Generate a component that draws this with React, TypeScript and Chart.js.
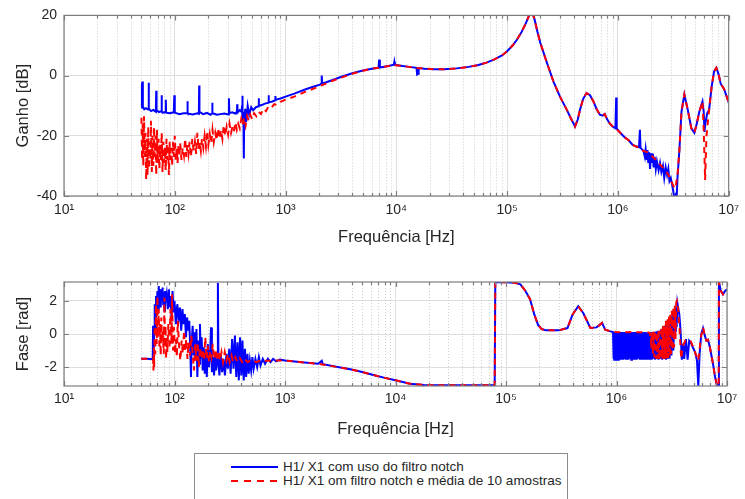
import React, { useEffect, useRef } from 'react';
import { Chart, registerables } from 'chart.js';

Chart.register(...registerables);

const FONT_FAMILY = '"Liberation Sans", Arial, Helvetica, sans-serif';
const TEXT_COLOR = '#262626';
const BLUE = '#0000ff';
const RED = '#ff0000';

const seriesLabels = [
  'H1/ X1 com uso do filtro notch',
  'H1/ X1 om filtro notch e média de 10 amostras',
];
const xTitle = 'Frequência [Hz]';
const gainTitle = 'Ganho [dB]';
const phaseTitle = 'Fase [rad]';

const freqTicks = [
  10, 20, 30, 40, 50, 60, 70, 80, 90,
  100, 200, 300, 400, 500, 600, 700, 800, 900,
  1000, 2000, 3000, 4000, 5000, 6000, 7000, 8000, 9000,
  10000, 20000, 30000, 40000, 50000, 60000, 70000, 80000, 90000,
  100000, 200000, 300000, 400000, 500000, 600000, 700000, 800000, 900000,
  1000000, 2000000, 3000000, 4000000, 5000000, 6000000, 7000000, 8000000, 9000000,
  10000000,
];
const decadeLabels: Record<string, string> = {
  '10': '10¹', '100': '10²', '1000': '10³', '10000': '10⁴',
  '100000': '10⁵', '1000000': '10⁶', '10000000': '10⁷',
};
const gainTicks = [-40, -20, 0, 20];
const phaseTicks = [-2, 0, 2];

// [frequency Hz, gain dB]
const gainBlue: [number, number][] = [
  [50, -10.7], [50.5, -3], [51, -2], [51.5, -10.2], [53, -11.2], [55, -10.8], [57.5, -11.3], [58, -2.4], [58.5, -11],
  [61, -11.8], [64, -11.4], [67.5, -12], [68, -5], [68.5, -11.5], [72, -12.1], [75.5, -11.8], [76, -6.5], [76.5, -12],
  [80, -12.3], [82.5, -12], [83, -8], [83.5, -12.3], [90, -12.5], [98, -12.2], [99, -6.5], [100, -12.3], [110, -12.8],
  [120, -12.5], [129, -12.4], [130, -8.5], [131, -12.6], [145, -12.9], [160, -12.5], [165, -12.7], [166, -3.3], [167, -12],
  [180, -12.8], [195, -12.4], [210, -13], [217, -12.6], [218, -9], [219, -12.5], [240, -13], [260, -12.8], [280, -12.6],
  [305, -12.9], [308, -7.5], [311, -12.5], [330, -12.2], [350, -12.6], [364, -12], [366, -9.5], [368, -12.3], [385, -11.5],
  [400, -12], [405, -10], [406, -6.7], [408, -11], [412, -15], [416, -12], [420, -27.5], [423, -14], [427, -18], [432, -11],
  [440, -15.5], [455, -10], [470, -13], [490, -10.5], [510, -11.5], [540, -10.5], [571, -10.2], [573, -7.5], [575, -10],
  [610, -9.8], [650, -9.3], [702, -9], [704, -6.5], [706, -8.8], [750, -8.7], [807, -8.2], [809, -6.8], [811, -8],
  [900, -7.6], [1000, -7], [1200, -6], [1500, -4.6], [1800, -3.6], [2050, -3], [2110, -2.6], [2120, 0], [2140, -2.5],
  [2300, -2.3], [2700, -1.4], [3200, -0.4], [4000, 0.8], [5000, 1.7], [6000, 2.3], [6900, 2.6], [7000, 5.3], [7100, 2.7],
  [8500, 3.2], [9500, 3.6], [9600, 4.6], [9700, 3.6], [11000, 3.3], [13000, 2.9], [15200, 2.6], [15400, 0.4], [15700, 0.6],
  [15900, 2.5], [18000, 2.3], [22000, 2.1], [27000, 2.1], [35000, 2.4], [45000, 2.9], [55000, 3.5], [65000, 4.3], [76000, 5.3],
  [90000, 6.7], [100000, 8.1], [112000, 10], [123000, 12], [135000, 14.5], [146000, 17], [158000, 20], [167000, 21.3], [176000, 19],
  [188000, 14.5], [199000, 11], [225000, 5], [262000, -2], [300000, -7], [345000, -11.3], [380000, -14.5], [410000, -16.9], [435000, -14.5],
  [455000, -11.3], [485000, -7.8], [520000, -5.8], [560000, -6.5], [600000, -8.5], [640000, -11], [687000, -13], [730000, -13.3], [760000, -12.8],
  [800000, -14.5], [840000, -15.8], [900000, -17], [950000, -17.5], [965000, -7.3], [975000, -17.5], [1050000, -19], [1150000, -20.5], [1250000, -21.5],
  [1360000, -23], [1450000, -23.5], [1550000, -23.8], [1580000, -18], [1600000, -24], [1650000, -24.5], [1700000, -25], [1750000, -27], [1780000, -24.5],
  [1820000, -28], [1850000, -24.7], [1880000, -29], [1920000, -25.5], [1950000, -31], [1990000, -25.8], [2030000, -29], [2070000, -26], [2100000, -30.5],
  [2150000, -27], [2200000, -31], [2250000, -28.5], [2330000, -31.5], [2400000, -29], [2470000, -32], [2550000, -30], [2620000, -34], [2700000, -30.5],
  [2780000, -33], [2850000, -31], [2920000, -35], [3000000, -34], [3080000, -36], [3150000, -38], [3230000, -41], [3300000, -40], [3380000, -42],
  [3450000, -34], [3590000, -24.7], [3750000, -12], [3980000, -6.3], [4270000, -11.3], [4600000, -17.5], [4900000, -19], [5150000, -16], [5430000, -12],
  [5800000, -8.6], [5950000, -12], [6050000, -18.7], [6150000, -16], [6400000, -12.5], [6660000, -11.3], [7000000, -4], [7380000, 1.4], [7740000, 2.6],
  [8100000, 0.5], [8470000, -2.7], [9080000, -4.4], [9500000, -6.5], [10000000, -8.9],
];

const gainRed: [number, number][] = [
  [50, -14], [50.7, -28], [51.3, -16], [52, -30], [52.8, -13.5], [53.6, -27], [54.4, -19], [55.2, -34.5], [56, -21], [56.8, -33],
  [57.6, -17], [58.4, -31], [59.3, -22], [60.2, -28], [61, -15], [62, -32], [63, -20], [64, -30], [65, -17], [66, -27],
  [67, -20], [68, -33], [69, -18], [70.2, -29], [71.4, -21], [72.6, -31], [73.8, -23], [75, -28], [76.2, -19], [77.5, -32],
  [78.8, -22], [80, -29], [81.4, -24], [82.8, -31.5], [84.2, -21], [85.6, -28], [87, -23], [88.5, -33], [90, -22], [91.5, -28],
  [93, -24], [94.6, -30], [96.2, -22], [98, -27], [100, -20], [102, -28], [104, -24], [106, -29], [108, -23], [110, -27],
  [112, -22.5], [115, -28], [118, -24], [121, -26.5], [124, -21], [127, -27], [130, -23], [133, -26], [136, -22], [140, -27],
  [144, -21], [148, -25], [152, -22], [156, -26], [160, -19], [164, -24.5], [168, -22], [172, -25], [176, -21], [181, -24],
  [186, -20], [191, -23.5], [196, -18.5], [201, -23], [207, -19.5], [213, -22.5], [219, -18], [225, -22], [232, -19], [239, -21.5],
  [246, -17.5], [253, -21], [261, -18], [269, -21], [277, -16.5], [285, -20], [294, -17], [303, -19.5], [312, -16], [322, -19],
  [332, -17], [342, -18.5], [352, -15.5], [363, -18], [374, -16], [386, -17.5], [398, -14.5], [410, -16.5], [423, -14], [436, -16.5],
  [450, -13.5], [465, -15], [480, -13], [500, -14.5], [520, -12.5], [545, -13.5], [570, -12], [600, -12.8], [630, -11], [665, -11.8],
  [700, -10.3], [740, -10.8], [790, -9.5], [840, -9.8], [900, -8.7], [1000, -8], [1200, -7], [1500, -5.4], [1800, -4.3], [2100, -3.3],
  [2500, -2.1], [3000, -1], [4000, 0.6], [5000, 1.6], [6000, 2.3], [7000, 2.6], [8500, 3.2], [9500, 3.5], [11000, 3.3], [13000, 2.9],
  [15500, 2.5], [18000, 2.3], [22000, 2.1], [27000, 2.1], [35000, 2.4], [45000, 2.9], [55000, 3.5], [65000, 4.3], [76000, 5.3], [90000, 6.7],
  [100000, 8.1], [112000, 10], [123000, 12], [135000, 14.5], [146000, 17], [158000, 20], [167000, 21.3], [176000, 19], [188000, 14.5], [199000, 11],
  [225000, 5], [262000, -2], [300000, -7], [345000, -11.3], [380000, -14.5], [410000, -16.9], [435000, -14.5], [455000, -11.3], [485000, -7.8], [520000, -5.8],
  [560000, -6.5], [600000, -8.5], [640000, -11], [687000, -13], [730000, -13.3], [760000, -12.8], [800000, -14.5], [840000, -15.8], [900000, -17], [950000, -17.5],
  [1050000, -19], [1150000, -20.5], [1250000, -21.5], [1360000, -23], [1450000, -23.5], [1550000, -24], [1700000, -25], [1850000, -25.5], [2000000, -26.5], [2200000, -28],
  [2400000, -29.5], [2600000, -31], [2800000, -32.5], [3000000, -34.5], [3150000, -36.5], [3300000, -37.5], [3450000, -33], [3590000, -24.7], [3750000, -12], [3980000, -6.3],
  [4270000, -11.3], [4600000, -17.5], [4900000, -19], [5150000, -16], [5430000, -12], [5800000, -8.6], [5950000, -18], [6130000, -34.7], [6300000, -20], [6660000, -11.3],
  [7000000, -4], [7380000, 1.4], [7740000, 2.6], [8100000, 0.5], [8470000, -2.7], [9080000, -4.4], [9500000, -6.5], [10000000, -8.9],
];

// [frequency Hz, phase rad]
const phaseBlue: [number, number][] = [
  [50, -1.5], [56, -1.5], [63.5, -1.52], [64, 0.5], [64.5, -0.5], [65, -1.2], [65.5, 0.3], [66.2, 1.8], [67, 0.2],
  [68, 2.3], [69, 1.2], [70, 2.6], [71, 1.5], [72, 2.9], [73, 2.0], [74, 2.7], [75, 1.6], [76, 2.6], [77, 2.0],
  [78, 2.8], [79, 1.8], [80, 2.5], [81, 1.4], [82, 2.6], [83, 1.9], [85, 2.4], [87, 1.5], [89, 2.7], [90, 1.6],
  [92, 2.3], [94, 1.0], [96, 2.6], [98, 1.3], [100, 2.0], [103, 0.6], [106, 1.8], [109, 0.9], [112, 1.6], [115, 0.2],
  [118, 1.5], [121, 0.6], [124, 1.2], [127, -0.2], [130, 1.0], [133, 0.2], [136, 0.8], [139, -1.0], [141, -2.6], [143, -0.5],
  [146, 0.5], [149, -1.3], [152, 0.1], [155, -1.6], [158, 0.3], [161, -2.6], [164, -0.4], [167, -1.8], [170, 0.6], [173, -1.5],
  [176, -0.2], [180, -2.2], [184, -0.8], [188, -2.4], [192, -1.0], [196, -2.6], [200, -0.6], [205, -2.0], [210, -1.2], [214, 0.4],
  [218, -2.3], [223, -1.4], [228, -2.5], [233, -1.3], [238, -2.2], [243, -1.5], [247, 3.1], [250, -1.8], [255, -2.5], [262, -1.3],
  [270, -2.3], [278, -1.5], [286, -2.5], [295, -1.2], [304, -2.1], [313, -0.9], [322, -2.4], [332, -0.3], [342, -2.1], [352, -0.1],
  [362, -2.6], [372, -0.5], [382, -2.8], [392, -0.2], [402, -2.5], [412, -0.4], [423, -2.8], [434, -0.9], [445, -2.6], [457, -1.2],
  [469, -2.4], [481, -1.6], [494, -2.2], [507, -1.4], [520, -2.1], [540, -1.5], [560, -2.0], [580, -1.4], [600, -1.9], [630, -1.5],
  [660, -1.8], [700, -1.5], [740, -1.7], [780, -1.5], [830, -1.65], [900, -1.55], [1000, -1.6], [1500, -1.72], [2000, -1.8], [2150, -1.62],
  [2200, -1.82], [3000, -2.0], [4000, -2.15], [5000, -2.3], [6300, -2.48], [8000, -2.65], [10000, -2.8], [13500, -3.0], [18000, -3.08], [25000, -3.1],
  [40000, -3.1], [60000, -3.1], [79000, -3.1], [80000, 3.12], [100000, 3.12], [120000, 3.1], [135000, 3.0], [150000, 2.6], [165000, 2.1], [180000, 1.2],
  [195000, 0.55], [210000, 0.3], [230000, 0.22], [300000, 0.22], [360000, 0.36], [400000, 1.17], [450000, 1.68], [500000, 1.27], [580000, 0.36], [660000, 0.4],
  [740000, 0.67], [790000, 0.26], [880000, 0.16],
  [930000, 0.12], [938000, -1.5], [945000, 0.1], [953000, -1.55], [960000, 0.12], [972000, -1.5], [985000, 0.1], [993000, -1.55], [1000000, 0.1], [1015000, -1.5],
  [1030000, 0.12], [1040000, -1.55], [1050000, 0.1], [1065000, -1.5], [1080000, 0.12], [1095000, -1.55], [1110000, 0.1], [1125000, -1.5], [1140000, 0.12], [1155000, -1.55],
  [1170000, 0.1], [1185000, -1.5], [1200000, 0.12], [1215000, -1.55], [1230000, 0.1], [1250000, -1.5], [1270000, 0.12], [1285000, -1.55], [1300000, 0.1], [1320000, -1.5],
  [1340000, 0.12], [1360000, -1.55], [1380000, 0.1], [1400000, -1.5], [1420000, 0.12], [1440000, -1.55], [1460000, 0.1], [1480000, -1.5], [1500000, 0.12], [1525000, -1.55],
  [1550000, 0.1], [1575000, -1.5], [1600000, 0.12], [1625000, -1.55], [1650000, 0.1], [1675000, -1.5], [1700000, 0.12], [1725000, -1.55], [1750000, 0.1], [1775000, -1.5],
  [1800000, 0.12], [1830000, -1.55], [1860000, 0.1], [1890000, -1.5], [1920000, 0.12], [1950000, -1.55], [1980000, 0.1], [2015000, -1.5], [2050000, 0.12], [2085000, -1.55],
  [2120000, 0.1], [2160000, -1.5], [2200000, 0.12], [2240000, -1.55], [2280000, 0.15], [2320000, -1.5], [2360000, 0.2], [2400000, -1.55], [2450000, 0.2], [2500000, -1.5],
  [2540000, 0.3], [2590000, -1.55], [2640000, 0.3], [2690000, -1.5], [2740000, 0.5], [2800000, -1.55], [2850000, 0.6], [2900000, -1.5], [2960000, 0.8], [3020000, -1.5],
  [3080000, 1.0], [3140000, -1.3], [3200000, 1.2], [3270000, -1.0], [3350000, 1.5], [3400000, 0.2], [3450000, 1.6], [3500000, 0.4], [3560000, 1.85], [3700000, 1.2],
  [3800000, 0.2], [3900000, -1.55], [4000000, -0.6], [4100000, -1.5], [4250000, -0.3], [4400000, -1.55], [4550000, -0.4], [4700000, -0.5], [4900000, -0.8], [5150000, -1.1],
  [5350000, -1.6], [5500000, -3.14], [5650000, -1.2], [5850000, 0.0], [6070000, 0.35], [6300000, -0.1], [6500000, -0.4], [6730000, -0.35], [7000000, -0.8], [7470000, -1.8],
  [7800000, -2.6], [8120000, -3.14], [8400000, -3.14], [8450000, 3.14], [8800000, 2.6], [9200000, 2.4], [9600000, 2.6], [10000000, 2.7],
];

const phaseRed: [number, number][] = [
  [50, -1.5], [56, -1.5], [64, -1.52], [64.5, -2.2], [65, -0.8], [65.5, -2.0], [66.2, 0.5], [67, -1.2], [68, 1.8], [69, -0.6],
  [70, 2.3], [71, -0.2], [72, 1.5], [73, -0.9], [74, 0.6], [75, -1.3], [76, 1.0], [77, -0.5], [78, 0.3], [80, -1.2],
  [81, 2.2], [82, -0.8], [83, 0.5], [84, -1.5], [85, -0.2], [86, -1.1], [88, 0.6], [90, -0.9], [92, 1.5], [94, -0.6],
  [95, 2.4], [97, -1.0], [99, 0.4], [101, -1.2], [103, -0.3], [105, -1.4], [107, 0.8], [110, -0.7], [113, -1.6], [116, -0.4],
  [119, -1.2], [122, 0.2], [125, -1.0], [128, -0.3], [131, -1.5], [134, -0.5], [138, -1.3], [142, -0.1], [146, -1.2], [150, -2.2],
  [154, -0.6], [158, -1.6], [162, -0.5], [166, -2.0], [170, -0.8], [175, -1.5], [180, -0.9], [185, -1.6], [190, -0.2], [195, -1.5],
  [200, -0.7], [205, -1.7], [210, -1.0], [216, -1.4], [222, -0.6], [228, -1.5], [235, -0.9], [242, -1.6], [250, -1.0], [258, -1.6],
  [266, -1.1], [275, -1.7], [285, -1.1], [295, -1.6], [305, -1.2], [316, -1.7], [328, -1.3], [340, -1.7], [355, -1.4], [370, -1.7],
  [390, -1.45], [410, -1.7], [430, -1.5], [460, -1.7], [500, -1.55], [550, -1.7], [600, -1.6], [700, -1.62], [800, -1.6], [900, -1.6],
  [1000, -1.6], [1500, -1.72], [2000, -1.8], [3000, -2.0], [4000, -2.15], [5000, -2.3], [6300, -2.48], [8000, -2.65], [10000, -2.8], [13500, -3.0],
  [18000, -3.08], [25000, -3.1], [40000, -3.1], [60000, -3.1], [79000, -3.1], [80000, 3.12], [100000, 3.12], [120000, 3.1], [135000, 3.0], [150000, 2.6],
  [165000, 2.1], [180000, 1.2], [195000, 0.55], [210000, 0.3], [230000, 0.22], [300000, 0.22], [360000, 0.36], [400000, 1.17], [450000, 1.68], [500000, 1.27],
  [580000, 0.36], [660000, 0.4], [740000, 0.67], [790000, 0.26], [880000, 0.16], [1000000, 0.12], [1200000, 0.1], [1400000, 0.12], [1600000, 0.1], [1800000, 0.1],
  [2000000, 0.08], [2050000, -0.5], [2100000, 0.1], [2130000, -1.2], [2170000, 0.15], [2200000, -1.4], [2240000, 0.2], [2280000, -1.5], [2320000, 0.1], [2360000, -1.5],
  [2400000, 0.3], [2440000, -1.55], [2480000, 0.2], [2520000, -1.5], [2560000, 0.4], [2600000, -1.5], [2640000, 0.5], [2680000, -1.55], [2720000, 0.6], [2760000, -1.5],
  [2800000, 0.8], [2850000, -1.5], [2900000, 0.9], [2940000, -1.45], [2990000, 1.1], [3030000, -1.4], [3080000, 1.2], [3120000, -1.2], [3170000, 1.4], [3220000, -1.0],
  [3270000, 1.6], [3320000, -0.8], [3370000, 1.7], [3420000, -0.3], [3470000, 1.9], [3520000, 2.0], [3570000, 1.8], [3620000, 1.4], [3720000, 0.3], [3850000, -1.5],
  [4000000, -0.7], [4200000, -0.4], [4450000, -0.5], [4700000, -0.45], [4950000, -0.8], [5200000, -1.2], [5500000, -1.6], [5800000, -0.2], [6070000, 0.4], [6300000, -0.1],
  [6500000, -0.4], [6730000, -0.35], [7000000, -0.8], [7470000, -1.8], [7800000, -2.6], [8120000, -3.14], [8400000, -3.14], [8450000, 3.14], [8800000, 2.6], [9200000, 2.4],
  [9600000, 2.6], [10000000, 2.7],
];

const isDecade = (v: any) => decadeLabels[String(v)] !== undefined;

const framePlugin = {
  id: 'matlabFrame',
  beforeDatasetsDraw(chart: any) {
    const { ctx, chartArea: a } = chart;
    const xs = chart.scales.x;
    ctx.save();
    ctx.strokeStyle = '#cdcdcd';
    ctx.lineWidth = 1;
    ctx.setLineDash([1, 2]);
    ctx.beginPath();
    for (const v of freqTicks) {
      if (isDecade(v)) continue;
      const px = Math.round(xs.getPixelForValue(v)) + 0.5;
      ctx.moveTo(px, a.top);
      ctx.lineTo(px, a.bottom);
    }
    ctx.stroke();
    ctx.restore();
  },
  afterDatasetsDraw(chart: any) {
    const { ctx, chartArea: a } = chart;
    const xs = chart.scales.x;
    const ys = chart.scales.y;
    ctx.save();
    ctx.strokeStyle = '#7d7d7d';
    ctx.lineWidth = 1.2;
    ctx.setLineDash([]);
    ctx.beginPath();
    for (const v of freqTicks) {
      const px = Math.round(xs.getPixelForValue(v)) + 0.5;
      const len = isDecade(v) ? 5 : 3;
      ctx.moveTo(px, a.bottom);
      ctx.lineTo(px, a.bottom - len);
      ctx.moveTo(px, a.top);
      ctx.lineTo(px, a.top + len);
    }
    for (const t of ys.ticks) {
      const py = Math.round(ys.getPixelForValue(t.value)) + 0.5;
      ctx.moveTo(a.left, py);
      ctx.lineTo(a.left + 5, py);
      ctx.moveTo(a.right, py);
      ctx.lineTo(a.right - 5, py);
    }
    ctx.stroke();
    ctx.strokeRect(a.left, a.top, a.right - a.left, a.bottom - a.top);
    ctx.restore();
  },
};

type PanelOpts = {
  blue: [number, number][];
  red: [number, number][];
  yMin: number;
  yMax: number;
  yTicks: number[];
  yTitle: string;
  padTop: number;
  padRight: number;
  xHeight: number;
  xTickPad: number;
  xTitlePadBottom: number;
};

function buildPanel(canvas: HTMLCanvasElement, o: PanelOpts) {
  const toPts = (arr: [number, number][]) => arr.map(([f, v]) => ({ x: f, y: v }));
  const tickFont = { family: FONT_FAMILY, size: 14 };
  const titleFont = { family: FONT_FAMILY, size: 16.5 };
  return new Chart(canvas, {
    type: 'line',
    data: {
      datasets: [
        {
          label: seriesLabels[0],
          data: toPts(o.blue),
          borderColor: BLUE,
          backgroundColor: BLUE,
          borderWidth: 2,
          pointRadius: 0,
          tension: 0,
          fill: false,
          order: 2,
        },
        {
          label: seriesLabels[1],
          data: toPts(o.red),
          borderColor: RED,
          backgroundColor: RED,
          borderWidth: 2,
          borderDash: [6, 5],
          pointRadius: 0,
          tension: 0,
          fill: false,
          order: 1,
        },
      ],
    },
    options: {
      animation: false,
      responsive: false,
      devicePixelRatio: 1,
      events: [],
      layout: { padding: { left: 0, top: o.padTop, right: o.padRight, bottom: 0 } },
      plugins: { legend: { display: false }, tooltip: { enabled: false } },
      scales: {
        x: {
          type: 'logarithmic',
          min: 10,
          max: 10000000,
          afterBuildTicks: (s: any) => {
            s.ticks = freqTicks.map((v) => ({ value: v }));
          },
          afterFit: (s: any) => {
            s.height = o.xHeight;
          },
          ticks: {
            autoSkip: false,
            maxRotation: 0,
            minRotation: 0,
            padding: o.xTickPad,
            font: tickFont,
            color: TEXT_COLOR,
            callback: (v: any) => decadeLabels[String(v)] ?? '',
          },
          grid: {
            drawTicks: false,
            lineWidth: 1,
            color: (c: any) => (c.tick && isDecade(c.tick.value) ? '#dedede' : 'rgba(0,0,0,0)'),
          },
          border: { display: false },
          title: {
            display: true,
            text: xTitle,
            font: titleFont,
            color: TEXT_COLOR,
            padding: { top: 0, bottom: o.xTitlePadBottom },
          },
        },
        y: {
          type: 'linear',
          min: o.yMin,
          max: o.yMax,
          afterBuildTicks: (s: any) => {
            s.ticks = o.yTicks.map((v) => ({ value: v }));
          },
          afterFit: (s: any) => {
            s.width = 64;
          },
          ticks: {
            autoSkip: false,
            padding: 7,
            font: tickFont,
            color: TEXT_COLOR,
            callback: (v: any) => String(v),
          },
          grid: { drawTicks: false, lineWidth: 1, color: '#dedede' },
          border: { display: false },
          title: {
            display: true,
            text: o.yTitle,
            font: titleFont,
            color: TEXT_COLOR,
            padding: { top: 13.6, bottom: 0 },
          },
        },
      },
    },
    plugins: [framePlugin],
  } as any);
}

export default function App() {
  const gainRef = useRef<HTMLCanvasElement>(null);
  const phaseRef = useRef<HTMLCanvasElement>(null);

  useEffect(() => {
    const g = buildPanel(gainRef.current!, {
      blue: gainBlue,
      red: gainRed,
      yMin: -40,
      yMax: 20,
      yTicks: gainTicks,
      yTitle: gainTitle,
      padTop: 15,
      padRight: 12,
      xHeight: 54,
      xTickPad: 6,
      xTitlePadBottom: 2.6,
    });
    const p = buildPanel(phaseRef.current!, {
      blue: phaseBlue,
      red: phaseRed,
      yMin: -Math.PI,
      yMax: Math.PI,
      yTicks: phaseTicks,
      yTitle: phaseTitle,
      padTop: 32,
      padRight: 18,
      xHeight: 54,
      xTickPad: 5,
      xTitlePadBottom: 0.5,
    });
    return () => {
      g.destroy();
      p.destroy();
    };
  }, []);

  return (
    <div
      style={{
        position: 'fixed',
        left: 0,
        top: 0,
        width: 745,
        height: 499,
        overflow: 'hidden',
        background: '#ffffff',
      }}
    >
      <canvas
        ref={gainRef}
        width={745}
        height={250}
        style={{ position: 'absolute', left: 0, top: 0, width: 745, height: 250 }}
      />
      <canvas
        ref={phaseRef}
        width={745}
        height={190}
        style={{ position: 'absolute', left: 0, top: 250, width: 745, height: 190 }}
      />
      <div
        style={{
          position: 'absolute',
          left: 194,
          top: 453,
          width: 374,
          height: 70,
          boxSizing: 'border-box',
          border: '1px solid #8c8c8c',
          background: '#ffffff',
          fontFamily: FONT_FAMILY,
          fontSize: 13.5,
          color: TEXT_COLOR,
        }}
      >
        {seriesLabels.map((label, i) => (
          <div
            key={i}
            style={{
              position: 'absolute',
              left: 36,
              top: 6 + i * 14,
              height: 14,
              display: 'flex',
              alignItems: 'center',
              whiteSpace: 'nowrap',
            }}
          >
            <svg width={48} height={14} style={{ display: 'block' }}>
              <line
                x1={0}
                y1={7}
                x2={47}
                y2={7}
                stroke={i === 0 ? BLUE : RED}
                strokeWidth={2}
                strokeDasharray={i === 0 ? undefined : '7 6'}
              />
            </svg>
            <span style={{ marginLeft: 4, lineHeight: '14px' }}>{label}</span>
          </div>
        ))}
      </div>
    </div>
  );
}
